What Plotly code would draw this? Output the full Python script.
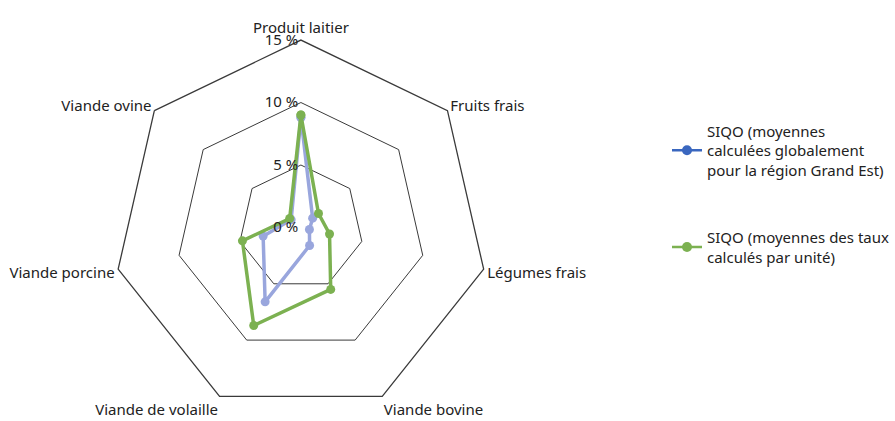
import plotly.graph_objects as go

categories = ["Produit laitier", "Fruits frais", "Légumes frais", "Viande bovine",
              "Viande de volaille", "Viande porcine", "Viande ovine"]
siqo_global = [8.8, 1.2, 0.7, 1.6, 6.6, 3.1, 1.0]
siqo_unite = [9.0, 1.8, 2.35, 5.5, 8.7, 4.8, 1.15]
radial_ticks = [0, 5, 10, 15]
radial_labels = ["0 %", "5 %", "10 %", "15 %"]
name_global = "SIQO (moyennes<br>calculées globalement<br>pour la région Grand Est)"
name_unite = "SIQO (moyennes des taux<br>calculés par unité)"

blue_line = "#99A6DD"
blue_leg = "#3A67BF"
green = "#7CB151"
grid = "#3a3a3a"
font = "Noto Sans"

def closed(v):
    return list(v) + [v[0]]

fig = go.Figure()
fig.add_trace(go.Scatterpolar(
    r=closed(siqo_global), theta=closed(categories), mode="lines+markers",
    line=dict(color=blue_line, width=3.5), marker=dict(size=9, color=blue_line),
    showlegend=False, hoverinfo="skip"))
fig.add_trace(go.Scatterpolar(
    r=closed(siqo_unite), theta=closed(categories), mode="lines+markers",
    line=dict(color=green, width=3.5), marker=dict(size=9, color=green),
    showlegend=False, hoverinfo="skip"))
# legend entries
fig.add_trace(go.Scatterpolar(
    r=[None], theta=[categories[0]], mode="lines+markers", name=name_global,
    line=dict(color=blue_leg, width=2.5), marker=dict(size=10, color=blue_leg),
    legendgroup="a"))
fig.add_trace(go.Scatterpolar(
    r=[None], theta=[categories[0]], mode="lines+markers", name=name_unite,
    line=dict(color=green, width=2.5), marker=dict(size=10, color=green),
    legendgroup="b"))

H = 421
W = 895
fig.update_layout(
    width=W, height=H,
    margin=dict(l=0, r=0, t=0, b=0),
    paper_bgcolor="white", plot_bgcolor="white",
    font=dict(family=font, size=15, color="#222"),
    polar=dict(
        domain=dict(x=[(305 - 190) / W, (305 + 190) / W],
                    y=[4 / H, 1 - 38 / H]),
        bgcolor="white",
        gridshape="linear",
        radialaxis=dict(range=[0, 15], tickvals=radial_ticks, ticktext=radial_labels,
                        showline=False, showgrid=True, gridcolor=grid, gridwidth=1.3,
                        angle=90, tickangle=90, side="counterclockwise", ticks="",
                        tickfont=dict(size=15, color="#222")),
        angularaxis=dict(direction="clockwise", rotation=90, showgrid=False,
                         showline=True, linecolor=grid, linewidth=1.3, ticks="",
                         tickfont=dict(size=15, color="#222")),
    ),
    legend=dict(x=0.7556, y=0.728, xanchor="left", yanchor="top",
                tracegroupgap=45, font=dict(size=15, color="#222"),
                bgcolor="rgba(0,0,0,0)"),
)

fig.write_html("out.html", config={"displayModeBar": False},
               post_script="document.body.style.margin='0';")
